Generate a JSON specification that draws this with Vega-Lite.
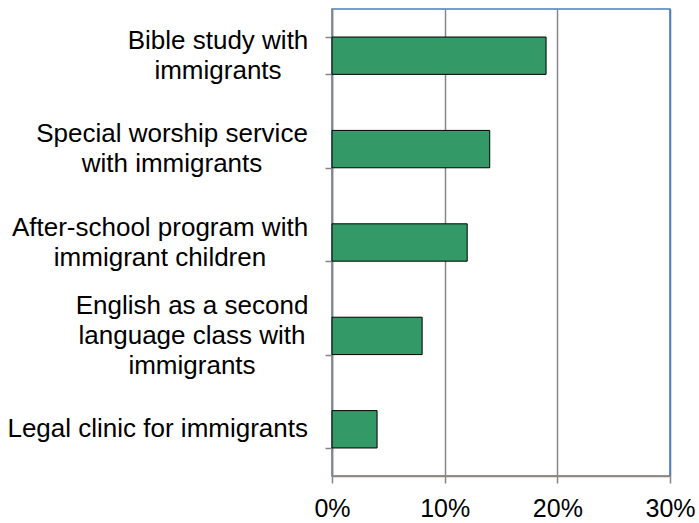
{
  "$schema": "https://vega.github.io/schema/vega-lite/v6.json",
  "autosize": {"type": "none"},
  "width": 338,
  "height": 467,
  "padding": {"left": 332, "top": 9, "right": 29, "bottom": 47},
  "background": "white",
  "config": {
    "view": {"stroke": "#4a7ebb", "strokeWidth": 1.5},
    "font": "Liberation Sans"
  },
  "data": {
    "values": [
      {"activity": "Bible study with|immigrants", "share": 0.19},
      {"activity": "Special worship service|with immigrants", "share": 0.14},
      {"activity": "After-school program with|immigrant children", "share": 0.12},
      {"activity": "English as a second|language class with|immigrants", "share": 0.08},
      {"activity": "Legal clinic for immigrants", "share": 0.04}
    ]
  },
  "encoding": {
    "y": {
      "field": "activity",
      "type": "nominal",
      "sort": null,
      "scale": {"paddingInner": 0.6, "paddingOuter": 0.3},
      "axis": {
        "title": null,
        "labels": false,
        "tickBand": "extent",
        "tickSize": 7,
        "tickColor": "#868686",
        "tickWidth": 1.5,
        "domainColor": "#868686",
        "domainWidth": 1.5,
        "grid": false
      }
    }
  },
  "layer": [
    {
      "mark": {"type": "bar", "color": "#339966", "stroke": "#000000", "strokeWidth": 1},
      "encoding": {
        "x": {
          "field": "share",
          "type": "quantitative",
          "scale": {"domain": [0, 0.3], "nice": false},
          "axis": {
            "title": null,
            "values": [0, 0.1, 0.2, 0.3],
            "format": ".0%",
            "labelFont": "Liberation Sans",
            "labelFontSize": 25,
            "labelColor": "#000000",
            "labelPadding": 13,
            "labelFlush": false,
            "tickSize": 7,
            "tickColor": "#868686",
            "tickWidth": 1.5,
            "domainColor": "#868686",
            "domainWidth": 1.5,
            "grid": true,
            "gridWidth": 1.5,
            "gridColor": {"condition": {"test": "datum.value >= 0.3", "value": "#4a7ebb"}, "value": "#868686"}
          }
        }
      }
    },
    {
      "transform": [{"filter": "indexof(datum.activity, 'Bible') >= 0"}],
      "mark": {"type": "text", "align": "center", "baseline": "middle", "dx": -114, "dy": -15, "font": "Liberation Sans", "fontSize": 26, "lineHeight": 30, "lineBreak": "|", "color": "#000000"},
      "encoding": {
        "x": {"datum": 0, "type": "quantitative"},
        "text": {"field": "activity"}
      }
    },
    {
      "transform": [{"filter": "indexof(datum.activity, 'Special') >= 0"}],
      "mark": {"type": "text", "align": "center", "baseline": "middle", "dx": -160, "dy": -15, "font": "Liberation Sans", "fontSize": 26, "lineHeight": 30, "lineBreak": "|", "color": "#000000"},
      "encoding": {
        "x": {"datum": 0, "type": "quantitative"},
        "text": {"field": "activity"}
      }
    },
    {
      "transform": [{"filter": "indexof(datum.activity, 'After') >= 0"}],
      "mark": {"type": "text", "align": "center", "baseline": "middle", "dx": -172, "dy": -15, "font": "Liberation Sans", "fontSize": 26, "lineHeight": 30, "lineBreak": "|", "color": "#000000"},
      "encoding": {
        "x": {"datum": 0, "type": "quantitative"},
        "text": {"field": "activity"}
      }
    },
    {
      "transform": [{"filter": "indexof(datum.activity, 'English') >= 0"}],
      "mark": {"type": "text", "align": "center", "baseline": "middle", "dx": -140, "dy": -30, "font": "Liberation Sans", "fontSize": 26, "lineHeight": 30, "lineBreak": "|", "color": "#000000"},
      "encoding": {
        "x": {"datum": 0, "type": "quantitative"},
        "text": {"field": "activity"}
      }
    },
    {
      "transform": [{"filter": "indexof(datum.activity, 'Legal') >= 0"}],
      "mark": {"type": "text", "align": "right", "baseline": "middle", "dx": -24, "dy": 0, "font": "Liberation Sans", "fontSize": 26, "lineHeight": 30, "lineBreak": "|", "color": "#000000"},
      "encoding": {
        "x": {"datum": 0, "type": "quantitative"},
        "text": {"field": "activity"}
      }
    }
  ]
}
